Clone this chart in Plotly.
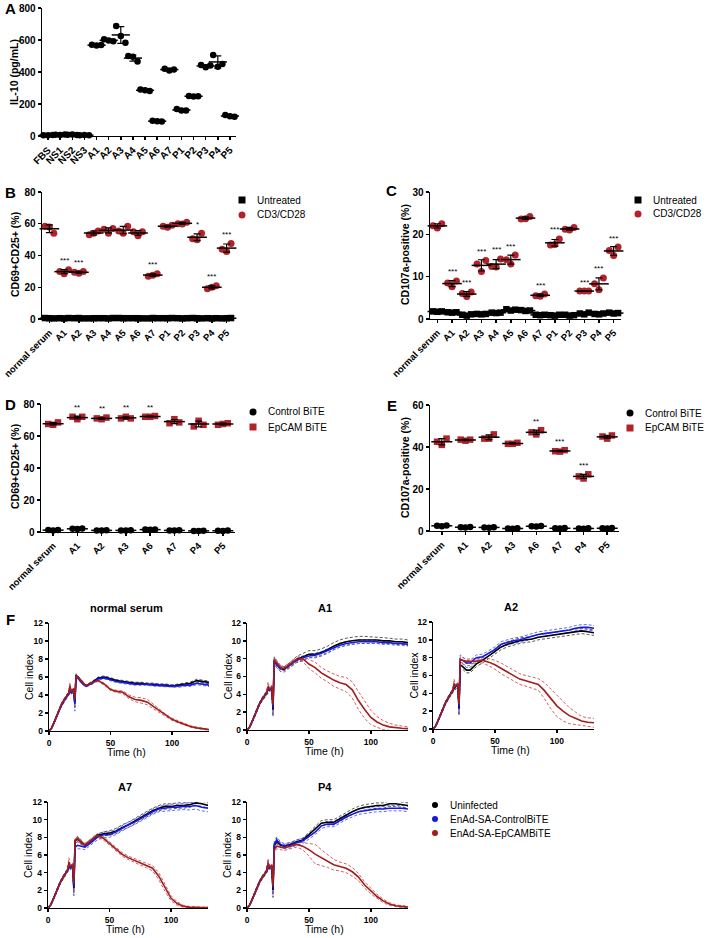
import numpy as np
import plotly.graph_objects as go

W, H = 709, 938
FONT = "Liberation Sans, Arial, sans-serif"
RED = "#B2222A"
BLUE = "#1616E0"
DRED = "#A31D1D"

# ---------------- Panel A : IL-10 ----------------
a_cats = ["FBS", "NS1", "NS2", "NS3", "A1", "A2", "A3", "A4", "A5", "A6", "A7",
          "P1", "P2", "P3", "P4", "P5"]
a_il10 = [[4, 5, 6], [8, 7, 9], [8, 9, 7], [5, 6, 4], [570, 565, 568], [605, 597, 592],
          [687, 625, 583], [500, 496, 465], [290, 286, 281], [96, 92, 90], [420, 410, 416],
          [168, 160, 160], [250, 247, 248], [444, 430, 440], [506, 433, 450], [131, 123, 121]]

# ---------------- Panel B : CD69+CD25+ ----------------
b_cats = ["normal serum", "A1", "A2", "A3", "A4", "A5", "A6", "A7", "P1", "P2", "P3", "P4", "P5"]
b_cd3 = [[58.5, 58, 54], [30, 28.5, 31], [29.5, 28.8, 30], [53, 54, 55.5], [56.5, 54, 57],
         [55.5, 54, 58.5], [55, 52.5, 55], [27, 27.5, 28.5], [58.5, 57.8, 59], [60, 59.8, 61],
         [50.5, 50, 54], [19, 20, 21], [44, 42.5, 47.5]]
b_untr = [[0.6, 0.5, 0.4], [0.5, 0.4, 0.6], [0.5, 0.6, 0.4], [0.4, 0.5, 0.5], [0.5, 0.4, 0.6],
          [0.6, 0.5, 0.5], [0.5, 0.5, 0.4], [0.4, 0.6, 0.5], [0.5, 0.5, 0.6], [0.5, 0.4, 0.5],
          [0.6, 0.5, 0.4], [0.5, 0.4, 0.5], [0.4, 0.5, 0.6]]
b_sig = ["", "***", "***", "", "", "", "", "***", "", "", "*", "***", "***"]

# ---------------- Panel C : CD107a ----------------
c_cats = b_cats
c_cd3 = [[22, 21.5, 22.5], [8.5, 7.6, 9.0], [6.0, 5.3, 6.4], [13.0, 11.2, 13.8], [12.4, 12.3, 14.2],
         [14.0, 13.0, 15.1], [23.6, 23.7, 24.2], [5.5, 5.4, 5.9], [17.5, 17.6, 18.9],
         [21.2, 21.0, 21.6], [6.6, 6.6, 6.6], [8.3, 6.9, 9.7], [16.2, 15.0, 17.0]]
c_untr = [[1.8, 1.7, 1.8], [1.6, 1.5, 1.6], [1.0, 0.8, 1.1], [1.2, 1.1, 1.2], [1.5, 1.4, 1.5],
          [2.3, 2.0, 2.2], [2.1, 1.9, 2.0], [1.0, 0.9, 1.0], [0.9, 0.8, 1.0], [1.0, 0.8, 0.9],
          [1.3, 1.1, 1.5], [1.2, 1.1, 1.3], [1.5, 1.3, 1.4]]
c_sig = ["", "***", "***", "***", "***", "***", "", "***", "***", "", "***", "***", "***"]

# ---------------- Panel D : CD69+CD25+ BiTE ----------------
d_cats = ["normal serum", "A1", "A2", "A3", "A6", "A7", "P4", "P5"]
d_epcam = [[67.5, 67, 68.5], [72, 70.5, 72], [71, 70.5, 71.5], [71, 72, 71], [72, 72, 72.5],
           [68, 70.5, 68.5], [66, 69.5, 67], [67, 67.5, 68]]
d_ctrl = [[1.2, 1.0, 1.3], [2.0, 1.8, 2.2], [1.0, 0.9, 1.1], [1.0, 0.9, 1.1], [1.5, 1.4, 1.6],
          [1.0, 0.9, 1.1], [0.7, 0.6, 0.8], [0.8, 0.7, 0.9]]
d_sig = ["", "**", "**", "**", "**", "", "", ""]

# ---------------- Panel E : CD107a BiTE ----------------
e_cats = d_cats
e_epcam = [[42.5, 41, 44], [43.5, 43, 43.5], [44, 44, 46], [41.5, 41.5, 42], [47, 46, 48],
           [38, 37.8, 38.5], [26, 25, 27], [45, 44, 45.5]]
e_ctrl = [[2.5, 2.3, 2.6], [1.8, 1.7, 1.9], [1.7, 1.6, 1.8], [1.2, 1.1, 1.3], [2.3, 2.1, 2.4],
          [1.3, 1.2, 1.4], [1.2, 1.1, 1.3], [1.3, 1.2, 1.4]]
e_sig = ["", "", "", "", "**", "***", "***", ""]

# ---------------- Panel F : cell index ----------------
f_time = [0, 2, 4, 6, 8, 10, 12, 14, 16, 17, 18, 19, 20, 21, 22, 24, 27, 30, 35, 40, 45, 50,
          55, 60, 65, 70, 75, 80, 85, 90, 95, 100, 105, 110, 115, 120, 125, 130]

ns_unin = [0, 0.3, 0.9, 1.6, 2.3, 2.9, 3.4, 3.8, 4.2, 4.6, 4.4, 4.5, 4.6,
           3.2, 6.2, 5.9, 5.4, 5.0, 5.4, 5.9, 6.0, 5.8, 5.6, 5.5, 5.4, 5.3, 5.3, 5.2, 5.2,
           5.1, 5.1, 5.0, 5.1, 5.2, 5.3, 5.6, 5.5, 5.4]
ns_ctrl = [0, 0.3, 0.9, 1.6, 2.3, 2.8, 3.3, 3.7, 4.1, 4.5, 4.2, 4.4, 4.5,
           3.0, 6.1, 5.8, 5.3, 5.0, 5.3, 5.8, 5.9, 5.7, 5.5, 5.4, 5.3, 5.2, 5.2, 5.2, 5.1,
           5.1, 5.0, 5.0, 5.0, 5.1, 5.1, 5.3, 5.2, 5.1]
ns_epcam = [0, 0.3, 0.9, 1.6, 2.3, 2.9, 3.4, 3.8, 4.2, 5.0, 4.4, 4.5, 4.6,
            3.5, 6.2, 5.9, 5.4, 5.0, 5.4, 5.6, 5.2, 4.6, 4.4, 4.3, 3.8, 3.5, 3.4, 3.2, 2.7,
            2.2, 1.7, 1.3, 1.0, 0.75, 0.5, 0.35, 0.25, 0.15]
ns_sd_k = [0, 0.05, 0.1, 0.1, 0.1, 0.1, 0.1, 0.1, 0.1, 0.3, 0.15, 0.15, 0.15,
           0.6, 0.15, 0.1, 0.1, 0.1, 0.1, 0.1, 0.12, 0.12, 0.12, 0.12, 0.12, 0.12, 0.12, 0.12,
           0.12, 0.12, 0.12, 0.12, 0.12, 0.12, 0.15, 0.15, 0.15, 0.15]
ns_sd_b = [0, 0.05, 0.1, 0.1, 0.1, 0.15, 0.15, 0.15, 0.15, 0.4, 0.2, 0.2, 0.2,
           0.8, 0.15, 0.12, 0.12, 0.12, 0.12, 0.12, 0.12, 0.12, 0.12, 0.12, 0.12, 0.12, 0.12,
           0.12, 0.12, 0.15, 0.15, 0.15, 0.15, 0.15, 0.15, 0.15, 0.15, 0.15]
ns_sd_r = [0, 0.05, 0.1, 0.1, 0.15, 0.15, 0.15, 0.15, 0.15, 0.4, 0.2, 0.2, 0.2,
           0.8, 0.15, 0.1, 0.1, 0.1, 0.1, 0.1, 0.1, 0.1, 0.12, 0.15, 0.2, 0.25, 0.3, 0.3,
           0.25, 0.2, 0.15, 0.12, 0.1, 0.1, 0.08, 0.06, 0.05, 0.05]

a1_unin = [0, 0.3, 0.9, 1.6, 2.3, 2.9, 3.4, 3.8, 4.2, 4.6, 4.5, 4.6, 4.7,
           2.3, 7.8, 7.4, 6.9, 6.8, 7.3, 7.9, 8.2, 8.5, 8.5, 8.7, 9.0, 9.4, 9.7, 9.9, 10.0,
           10.1, 10.1, 10.1, 10.1, 10.0, 10.0, 9.9, 9.9, 9.8]
a1_ctrl = [0, 0.3, 0.9, 1.6, 2.3, 2.9, 3.4, 3.8, 4.2, 4.6, 4.5, 4.6, 4.7,
           2.5, 7.7, 7.3, 6.9, 6.9, 7.3, 7.8, 8.1, 8.3, 8.4, 8.6, 8.9, 9.2, 9.5, 9.7, 9.8,
           9.9, 9.9, 9.9, 9.9, 9.8, 9.8, 9.7, 9.7, 9.6]
a1_epcam = [0, 0.3, 0.9, 1.6, 2.3, 2.9, 3.4, 3.8, 4.2, 4.9, 4.6, 4.7, 4.8,
            2.8, 7.9, 7.5, 7.0, 6.9, 7.4, 7.9, 8.0, 7.4, 7.0, 6.4, 6.0, 5.6, 5.3, 5.1, 4.5,
            3.3, 2.3, 1.4, 0.9, 0.55, 0.35, 0.25, 0.2, 0.15]
a1_sd_k = [0, 0.05, 0.1, 0.1, 0.15, 0.15, 0.2, 0.2, 0.2, 0.4, 0.2, 0.2, 0.2,
           0.8, 0.4, 0.4, 0.35, 0.3, 0.3, 0.35, 0.4, 0.4, 0.4, 0.4, 0.4, 0.4, 0.4, 0.4, 0.4,
           0.4, 0.4, 0.35, 0.35, 0.35, 0.3, 0.3, 0.3, 0.3]
a1_sd_b = [0, 0.05, 0.1, 0.1, 0.15, 0.15, 0.15, 0.15, 0.15, 0.4, 0.2, 0.2, 0.2,
           0.8, 0.3, 0.3, 0.25, 0.2, 0.2, 0.2, 0.2, 0.2, 0.2, 0.2, 0.2, 0.2, 0.2, 0.2, 0.2,
           0.2, 0.2, 0.2, 0.2, 0.2, 0.2, 0.2, 0.2, 0.2]
a1_sd_r = [0, 0.05, 0.1, 0.1, 0.15, 0.15, 0.15, 0.15, 0.15, 0.5, 0.2, 0.2, 0.2,
           0.8, 0.25, 0.2, 0.2, 0.2, 0.2, 0.25, 0.3, 0.5, 0.6, 0.6, 0.6, 0.7, 0.7, 0.8, 0.9,
           1.0, 1.0, 0.8, 0.6, 0.5, 0.4, 0.3, 0.25, 0.2]

a2_unin = [0, 0.3, 0.9, 1.6, 2.3, 2.9, 3.4, 3.9, 4.3, 4.6, 4.7, 4.8, 5.0,
           2.3, 7.2, 7.0, 6.6, 6.6, 7.3, 7.7, 8.2, 8.7, 9.2, 9.5, 9.7, 9.9, 10.0, 10.1, 10.3,
           10.4, 10.5, 10.6, 10.7, 10.8, 10.9, 11.0, 10.9, 10.8]
a2_ctrl = [0, 0.3, 0.9, 1.6, 2.3, 2.9, 3.4, 3.9, 4.3, 4.7, 4.8, 4.9, 5.0,
           2.5, 7.8, 7.7, 7.4, 7.4, 8.0, 8.1, 8.5, 8.9, 9.5, 9.7, 9.9, 10.0, 10.2, 10.4, 10.6,
           10.7, 10.8, 10.9, 11.0, 11.1, 11.3, 11.4, 11.4, 11.3]
a2_epcam = [0, 0.3, 0.9, 1.6, 2.3, 2.9, 3.4, 3.9, 4.3, 5.1, 4.8, 4.9, 5.0,
            2.8, 7.8, 7.7, 7.6, 7.6, 7.6, 7.7, 7.5, 7.2, 6.8, 6.4, 6.0, 5.6, 5.4, 5.2, 5.0,
            4.3, 3.4, 2.6, 2.0, 1.5, 1.2, 0.9, 0.75, 0.7]
a2_sd_k = [0, 0.05, 0.1, 0.1, 0.15, 0.15, 0.2, 0.2, 0.2, 0.4, 0.2, 0.2, 0.2,
           0.8, 0.35, 0.3, 0.3, 0.3, 0.3, 0.3, 0.3, 0.3, 0.3, 0.3, 0.3, 0.3, 0.3, 0.3, 0.3,
           0.3, 0.3, 0.3, 0.3, 0.3, 0.3, 0.3, 0.3, 0.3]
a2_sd_b = [0, 0.05, 0.1, 0.1, 0.15, 0.15, 0.15, 0.15, 0.15, 0.4, 0.2, 0.2, 0.2,
           0.8, 0.5, 0.4, 0.3, 0.3, 0.3, 0.3, 0.3, 0.3, 0.3, 0.3, 0.3, 0.3, 0.3, 0.3, 0.3,
           0.3, 0.3, 0.3, 0.3, 0.3, 0.3, 0.3, 0.3, 0.3]
a2_sd_r = [0, 0.05, 0.1, 0.1, 0.15, 0.15, 0.15, 0.15, 0.15, 0.5, 0.2, 0.2, 0.2,
           0.8, 0.3, 0.3, 0.25, 0.25, 0.25, 0.3, 0.4, 0.5, 0.6, 0.6, 0.6, 0.6, 0.6, 0.6, 0.65,
           0.9, 1.1, 1.2, 1.1, 0.9, 0.7, 0.5, 0.5, 0.5]

a7_unin = [0, 0.3, 0.9, 1.6, 2.3, 2.9, 3.4, 3.8, 4.3, 4.8, 4.6, 4.7, 4.8,
           2.2, 7.6, 7.8, 7.4, 7.1, 7.6, 8.2, 8.4, 8.5, 8.7, 9.1, 9.4, 9.8, 10.2, 10.6, 11.0,
           11.3, 11.5, 11.5, 11.6, 11.6, 11.7, 11.9, 11.8, 11.6]
a7_ctrl = [0, 0.3, 0.9, 1.6, 2.3, 2.9, 3.4, 3.8, 4.3, 4.7, 4.5, 4.6, 4.7,
           2.4, 6.9, 7.1, 7.0, 6.9, 7.4, 8.0, 8.3, 8.3, 8.6, 9.0, 9.4, 9.7, 10.1, 10.5, 10.9,
           11.2, 11.3, 11.4, 11.4, 11.5, 11.5, 11.6, 11.4, 11.3]
a7_epcam = [0, 0.3, 0.9, 1.6, 2.3, 2.9, 3.4, 3.8, 4.3, 5.2, 4.7, 4.8, 4.9,
            2.8, 7.6, 7.9, 7.4, 7.1, 7.6, 8.2, 7.9, 7.3, 6.8, 6.1, 5.7, 5.4, 5.1, 4.8, 4.5,
            3.6, 2.3, 1.1, 0.5, 0.2, 0.1, 0.05, 0.05, 0.05]
a7_sd_k = [0, 0.05, 0.1, 0.1, 0.15, 0.15, 0.2, 0.2, 0.2, 0.4, 0.2, 0.2, 0.2,
           0.8, 0.3, 0.3, 0.25, 0.2, 0.2, 0.2, 0.2, 0.25, 0.3, 0.3, 0.3, 0.3, 0.3, 0.3, 0.3,
           0.3, 0.3, 0.3, 0.3, 0.3, 0.3, 0.3, 0.3, 0.3]
a7_sd_b = [0, 0.05, 0.1, 0.1, 0.15, 0.15, 0.15, 0.15, 0.15, 0.4, 0.2, 0.2, 0.2,
           0.8, 0.4, 0.4, 0.3, 0.3, 0.3, 0.3, 0.3, 0.3, 0.3, 0.3, 0.3, 0.3, 0.3, 0.3, 0.3,
           0.3, 0.35, 0.35, 0.35, 0.35, 0.4, 0.4, 0.4, 0.4]
a7_sd_r = [0, 0.05, 0.1, 0.1, 0.15, 0.15, 0.15, 0.15, 0.15, 0.5, 0.2, 0.2, 0.2,
           0.8, 0.2, 0.2, 0.2, 0.2, 0.2, 0.2, 0.2, 0.2, 0.2, 0.2, 0.2, 0.2, 0.2, 0.25, 0.3,
           0.4, 0.4, 0.3, 0.2, 0.1, 0.08, 0.05, 0.05, 0.05]

p4_unin = [0, 0.3, 0.9, 1.6, 2.3, 2.9, 3.4, 3.8, 4.2, 5.0, 4.5, 4.6, 4.7,
           2.0, 7.0, 7.6, 7.1, 7.0, 7.2, 7.5, 7.7, 8.3, 8.9, 9.6, 9.7, 9.7, 10.1, 10.5, 10.9,
           11.2, 11.4, 11.5, 11.6, 11.6, 11.8, 11.8, 11.7, 11.6]
p4_ctrl = [0, 0.3, 0.9, 1.6, 2.3, 2.9, 3.4, 3.8, 4.2, 4.9, 4.5, 4.6, 4.7,
           2.2, 7.2, 7.7, 7.2, 7.0, 7.1, 7.4, 7.6, 8.1, 8.6, 9.3, 9.5, 9.5, 9.9, 10.3, 10.6,
           10.9, 11.0, 11.1, 11.2, 11.2, 11.3, 11.3, 11.3, 11.2]
p4_epcam = [0, 0.3, 0.9, 1.6, 2.3, 2.9, 3.4, 3.8, 4.2, 5.1, 4.6, 4.7, 4.8,
            2.5, 6.6, 7.0, 6.9, 6.8, 7.0, 7.2, 7.0, 6.6, 6.1, 5.7, 5.3, 4.9, 4.7, 4.5, 4.1,
            3.5, 2.6, 1.9, 1.3, 0.8, 0.45, 0.25, 0.15, 0.1]
p4_sd_k = [0, 0.05, 0.1, 0.1, 0.15, 0.15, 0.2, 0.2, 0.2, 0.4, 0.2, 0.2, 0.2,
           0.8, 0.3, 0.3, 0.25, 0.2, 0.2, 0.2, 0.2, 0.25, 0.3, 0.3, 0.3, 0.3, 0.3, 0.3, 0.3,
           0.3, 0.3, 0.3, 0.3, 0.3, 0.3, 0.3, 0.3, 0.3]
p4_sd_b = [0, 0.05, 0.1, 0.1, 0.15, 0.15, 0.15, 0.15, 0.15, 0.4, 0.2, 0.2, 0.2,
           0.8, 0.35, 0.35, 0.3, 0.3, 0.3, 0.3, 0.3, 0.3, 0.3, 0.3, 0.3, 0.3, 0.3, 0.3, 0.3,
           0.3, 0.3, 0.3, 0.3, 0.3, 0.3, 0.3, 0.3, 0.3]
p4_sd_r = [0, 0.05, 0.1, 0.1, 0.15, 0.15, 0.15, 0.15, 0.15, 0.5, 0.2, 0.2, 0.2,
           0.8, 0.3, 0.3, 0.3, 0.3, 0.3, 0.3, 0.4, 0.7, 1.1, 0.9, 0.7, 0.6, 0.5, 0.5, 0.5,
           0.4, 0.35, 0.3, 0.25, 0.2, 0.15, 0.1, 0.1, 0.1]

f_titles = ["normal serum", "A1", "A2", "A7", "P4"]
f_series = [
    (ns_unin, ns_ctrl, ns_epcam, ns_sd_k, ns_sd_b, ns_sd_r),
    (a1_unin, a1_ctrl, a1_epcam, a1_sd_k, a1_sd_b, a1_sd_r),
    (a2_unin, a2_ctrl, a2_epcam, a2_sd_k, a2_sd_b, a2_sd_r),
    (a7_unin, a7_ctrl, a7_epcam, a7_sd_k, a7_sd_b, a7_sd_r),
    (p4_unin, p4_ctrl, p4_epcam, p4_sd_k, p4_sd_b, p4_sd_r),
]
f_legend = ["Uninfected", "EnAd-SA-ControlBiTE", "EnAd-SA-EpCAMBiTE"]

# ====================================================================
layout = dict(template="none", width=W, height=H, margin=dict(l=0, r=0, t=0, b=0, pad=0),
              autosize=False,
              paper_bgcolor="white", plot_bgcolor="rgba(0,0,0,0)", showlegend=False,
              font=dict(family=FONT, color="black"))
ann = []


def set_axes(n, x0, x1, ytop, ybot, xr, yr, xt, xl, yt, angle, tfs, xtfs=None):
    sx = "" if n == 1 else str(n)
    common = dict(ticks="outside", ticklen=3, tickwidth=1.4, tickcolor="black",
                  showline=True, linecolor="black", linewidth=1.4, showgrid=False,
                  zeroline=False, fixedrange=True, automargin=False, ticklabelstandoff=0)
    layout["xaxis" + sx] = dict(domain=[x0 / W, x1 / W], range=xr, anchor="y" + sx,
                                tickmode="array", tickvals=xt, ticktext=xl, tickangle=angle,
                                tickfont=dict(size=xtfs or tfs, family=FONT, weight="bold",
                                              color="black"),
                                **common)
    layout["yaxis" + sx] = dict(domain=[1 - ybot / H, 1 - ytop / H], range=yr, anchor="x" + sx,
                                tickmode="array", tickvals=yt,
                                tickfont=dict(size=tfs, family=FONT, weight="bold",
                                              color="black"), **common)
    return ("x" + sx, "y" + sx)


def text(x, y, s, size, bold=False, angle=0, xanchor="center", yanchor="middle"):
    ann.append(dict(x=x / W, y=1 - y / H, xref="paper", yref="paper", text=s, showarrow=False,
                    font=dict(size=size, family=FONT, color="black",
                              weight="bold" if bold else "normal"),
                    textangle=angle, xanchor=xanchor, yanchor=yanchor))


fig = go.Figure()
JIT = [-1, 0, 1]


def dots(ax, reps, color, symbol, size, jit):
    xs, ys = [], []
    for i, r in enumerate(reps):
        for j, v in enumerate(r):
            xs.append(i + JIT[j] * jit)
            ys.append(v)
    fig.add_trace(go.Scatter(x=xs, y=ys, mode="markers", xaxis=ax[0], yaxis=ax[1],
                             marker=dict(color=color, symbol=symbol, size=size,
                                         line=dict(width=0)), cliponaxis=False,
                             hoverinfo="skip"))


def meanbars(ax, reps, wid=14):
    m = [float(np.mean(r)) for r in reps]
    s = [float(np.std(r, ddof=1)) for r in reps]
    fig.add_trace(go.Scatter(x=list(range(len(reps))), y=m, mode="markers",
                             xaxis=ax[0], yaxis=ax[1], cliponaxis=False, hoverinfo="skip",
                             marker=dict(symbol="line-ew", size=wid, color="black",
                                         line=dict(width=1.5, color="black")),
                             error_y=dict(type="data", array=s, color="black",
                                          thickness=1.2, width=3.5)))


def stars(ax, reps, sig, shift=9):
    for i, s in enumerate(sig):
        if s:
            ann.append(dict(x=i, y=max(reps[i]), xref=ax[0], yref=ax[1], text=s,
                            showarrow=False, yshift=shift, yanchor="middle",
                            font=dict(size=8, family=FONT, color="black")))


# ---- Panel A
axA = set_axes(1, 42, 236, 8, 136, [-0.5, 15.5], [0, 800], list(range(len(a_cats))), a_cats,
               [0, 200, 400, 600, 800], -45, 10)
dots(axA, a_il10, "black", "circle", 6.5, 0.38)
meanbars(axA, a_il10, 13)

# ---- Panel B
axB = set_axes(2, 42, 234, 192, 319, [-0.5, 12.5], [0, 80], list(range(len(b_cats))), b_cats,
               [0, 20, 40, 60, 80], -45, 10, 9.5)
dots(axB, b_untr, "black", "square", 6.5, 0.3)
dots(axB, b_cd3, RED, "circle", 7, 0.3)
meanbars(axB, b_untr)
meanbars(axB, b_cd3)
stars(axB, b_cd3, b_sig)

# ---- Panel C
axC = set_axes(3, 430, 621, 192, 319, [-0.5, 12.5], [0, 30], list(range(len(c_cats))), c_cats,
               [0, 10, 20, 30], -45, 10, 9.5)
dots(axC, c_untr, "black", "square", 6.5, 0.3)
dots(axC, c_cd3, RED, "circle", 7, 0.3)
meanbars(axC, c_untr)
meanbars(axC, c_cd3)
stars(axC, c_cd3, c_sig)

# ---- Panel D
axD = set_axes(4, 41, 235, 404, 532, [-0.5, 7.5], [0, 80], list(range(len(d_cats))), d_cats,
               [0, 20, 40, 60, 80], -45, 10, 9.5)
dots(axD, d_ctrl, "black", "circle", 6.5, 0.2)
dots(axD, d_epcam, RED, "square", 6.5, 0.2)
meanbars(axD, d_ctrl, 15)
meanbars(axD, d_epcam, 15)
stars(axD, d_epcam, d_sig)

# ---- Panel E
axE = set_axes(5, 430, 619, 405, 531, [-0.5, 7.5], [0, 60], list(range(len(e_cats))), e_cats,
               [0, 20, 40, 60], -45, 10, 9.5)
dots(axE, e_ctrl, "black", "circle", 6.5, 0.2)
dots(axE, e_epcam, RED, "square", 6.5, 0.2)
meanbars(axE, e_ctrl, 15)
meanbars(axE, e_epcam, 15)
stars(axE, e_epcam, e_sig)

# ---- Panel F
f_boxes = [(49, 209, 623, 731), (247, 408, 623, 730), (433, 594, 622, 729),
           (48, 208, 802, 908), (247, 408, 802, 908)]
t = np.array(f_time, dtype=float)
for k, (box, ser, title) in enumerate(zip(f_boxes, f_series, f_titles)):
    x0, x1, yt_, yb_ = box
    ax = set_axes(6 + k, x0, x1, yt_, yb_, [0, 130], [0, 12], [0, 50, 100],
                  ["0", "50", "100"], [0, 2, 4, 6, 8, 10, 12], 0, 8.5)
    unin, ctrl, epc, sk, sb, sr = [np.array(v, dtype=float) for v in ser]
    for mean, sd, dcol in ((unin, sk, "#444444"), (ctrl, sb, "#4B5BF2"), (epc, sr, "#C8504F")):
        for sign in (1, -1):
            fig.add_trace(go.Scatter(x=t, y=mean + sign * sd, mode="lines", xaxis=ax[0],
                                     yaxis=ax[1], hoverinfo="skip",
                                     line=dict(color=dcol, width=0.9, dash="3px,2px")))
    for mean, col in ((unin, "black"), (ctrl, BLUE), (epc, DRED)):
        fig.add_trace(go.Scatter(x=t, y=mean, mode="lines", xaxis=ax[0], yaxis=ax[1],
                                 hoverinfo="skip", line=dict(color=col, width=1.6)))
    cx = (x0 + x1) / 2
    text(cx - 3, yt_ - 15, title, 11, bold=True)
    text(cx - 3, yb_ + 21, "Time (h)", 10.5)
    text(x0 - 20, (yt_ + yb_) / 2, "Cell index", 10.5, angle=-90)

# ---- overlay axis in pixel units for legend symbols
layout["xaxis20"] = dict(domain=[0, 1], range=[0, W], visible=False, anchor="y20",
                         fixedrange=True, automargin=False)
layout["yaxis20"] = dict(domain=[0, 1], range=[H, 0], visible=False, anchor="x20",
                         fixedrange=True, automargin=False)


def legend_item(x, y, label, color, symbol, size=7):
    fig.add_trace(go.Scatter(x=[x], y=[y], mode="markers", xaxis="x20", yaxis="y20",
                             marker=dict(color=color, symbol=symbol, size=size),
                             hoverinfo="skip", cliponaxis=False))
    text(x + 13, y, label, 10, xanchor="left")


legend_item(242, 200, "Untreated", "black", "square")
legend_item(242, 215, "CD3/CD28", RED, "circle")
legend_item(638, 200, "Untreated", "black", "square")
legend_item(638, 214, "CD3/CD28", RED, "circle")
legend_item(253, 412, "Control BiTE", "black", "circle")
legend_item(253, 427, "EpCAM BiTE", RED, "square")
legend_item(630, 413, "Control BiTE", "black", "circle")
legend_item(630, 428, "EpCAM BiTE", RED, "square")
for lab, col, yy in zip(f_legend, ["black", BLUE, DRED], [805, 819, 833]):
    legend_item(435, yy, lab, col, "circle", 6)

# ---- axis titles and panel letters
text(14, 72, "IL-10 (pg/mL)", 10.5, bold=True, angle=-90)
text(15, 255, "CD69+CD25+ (%)", 10.5, bold=True, angle=-90)
text(405, 255, "CD107a-positive (%)", 10.5, bold=True, angle=-90)
text(15, 467, "CD69+CD25+ (%)", 10.5, bold=True, angle=-90)
text(405, 468, "CD107a-positive (%)", 10.5, bold=True, angle=-90)
for lt, lx, ly in (("A", 10, 9), ("B", 10, 192), ("C", 391, 191), ("D", 10, 404),
                   ("E", 392, 406), ("F", 10, 619)):
    text(lx, ly, lt, 15, bold=True)

layout["annotations"] = ann
fig.update_layout(**layout)
fig.write_html("out.html", config={"displayModeBar": False, "staticPlot": True},
               post_script="document.body.style.margin='0px';"
                           "document.body.style.padding='0px';")
